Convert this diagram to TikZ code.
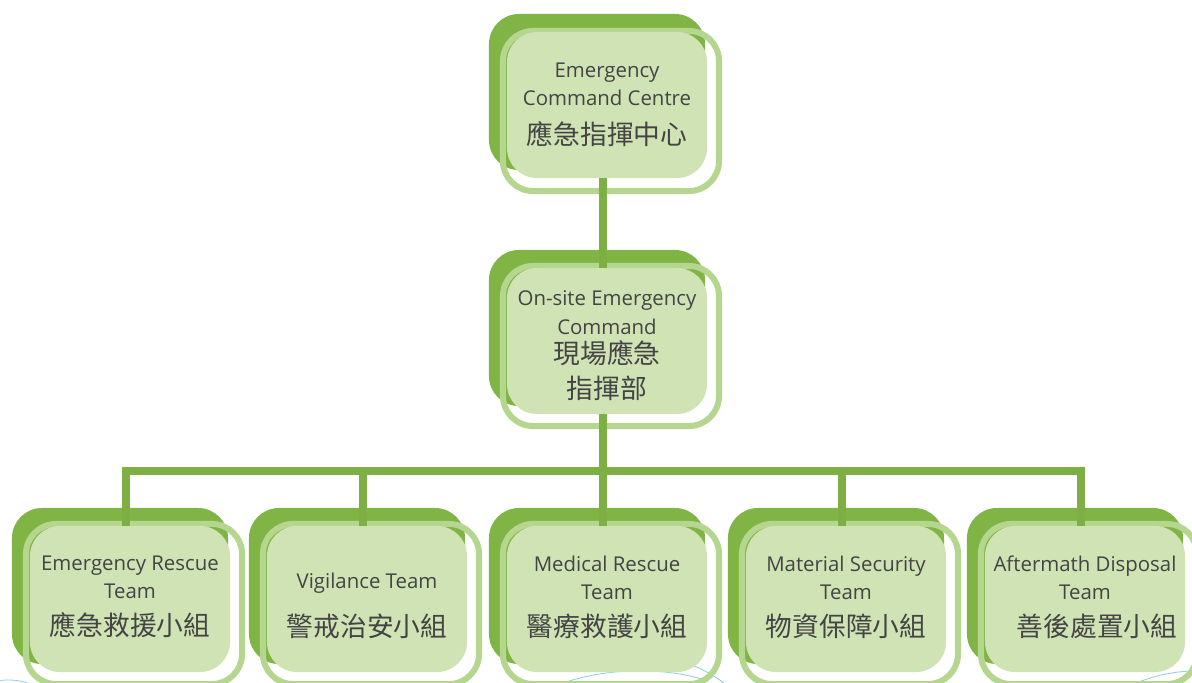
\documentclass[tikz,border=0pt]{standalone}
\usepackage{fontspec}
\setmainfont{Open Sans}
\newfontfamily\cjk{Noto Sans CJK TC}
\definecolor{bargreen}{HTML}{80B545}
\definecolor{ringgreen}{HTML}{B4D68F}
\definecolor{facegreen}{HTML}{D0E3B5}
\definecolor{linegreen}{HTML}{7EAF44}
\definecolor{textgray}{HTML}{444444}
\definecolor{swirlblue}{HTML}{8ED0E2}
\newcommand{\zh}[1]{{\cjk\fontsize{19}{26}\selectfont #1}}

\begin{document}
\begin{tikzpicture}[x=0.025cm, y=-0.025cm,
    backbox/.style={fill=bargreen, rounded corners=0.75cm, minimum width=5.4cm, minimum height=3.9cm, inner sep=0pt},
    ringbox/.style={draw=ringgreen, line width=0.15cm, rounded corners=0.75cm, minimum width=5.4cm, minimum height=4cm, inner sep=0pt},
    facebox/.style={fill=facegreen, rounded corners=0.75cm, minimum width=5cm, minimum height=3.65cm, inner sep=0pt,
        align=center, text=textgray, font=\fontsize{14.5}{20}\selectfont},
    link/.style={draw=linegreen, line width=0.2cm},
    swirl/.style={draw=swirlblue, line width=0.6pt}]

    \fill[white] (0,0) rectangle (1192,683);
    \useasboundingbox (0,0) rectangle (1192,683);
    \clip (0,0) rectangle (1192,683);

    % faint background swirls
    \draw[swirl] (555,686) .. controls (600,668) and (660,666) .. (705,680);
    \draw[swirl] (660,655) .. controls (690,662) and (710,672) .. (728,686);
    \draw[swirl] (1130,686) .. controls (1150,676) and (1175,671) .. (1195,671);
    \draw[swirl] (-5,681) .. controls (10,679) and (20,680) .. (30,684);

    % command centre
    \node[backbox] (eccback) at (597,92) {};
    \node[ringbox] (eccring) at (611,111) {};
    \node[facebox] (ecc) at (607,105) {Emergency\\Command Centre\\[8pt]\zh{應急指揮中心}};

    % on-site command
    \node[backbox] (oscback) at (597,328) {};
    \node[ringbox] (oscring) at (611,346) {};
    \node[facebox, text depth=0pt] (osc) at (607,341) {};
    \node[align=center, text=textgray, font=\fontsize{14.5}{20}\selectfont, inner sep=0pt] (osctext) at (607,346)
        {On-site Emergency\\Command\\[1pt]\zh{現場應急}\\[5pt]\zh{指揮部}};

    % teams
    \foreach \n/\fx/\ty/\txt in {
        1/130/597/{Emergency Rescue\\Team\\[6pt]\zh{應急救援小組}},
        2/367/606/{Vigilance Team\\[14pt]\zh{警戒治安小組}},
        3/607/597/{Medical Rescue\\Team\\[6pt]\zh{醫療救護小組}},
        4/846/597/{Material Security\\Team\\[6pt]\zh{物資保障小組}},
        5/1085/597/{Aftermath Disposal\\Team\\[6pt]\hspace*{0.6cm}\zh{善後處置小組}}} {
        \node[backbox] (back\n) at (\fx-10,586) {};
        \node[ringbox] (ring\n) at (\fx+4,604) {};
        \node[facebox] (team\n) at (\fx,599) {};
        \node[align=center, text=textgray, font=\fontsize{14.5}{20}\selectfont, inner sep=0pt] (label\n) at (\fx,\ty) {\txt};
    }

    \coordinate (bus) at (603,471);
    \draw[link] ([xshift=-0.1cm]ecc.south) -- ([xshift=-0.1cm]osc.north);
    \draw[link] ([xshift=-0.1cm]osc.south) -- ([xshift=-0.1cm]osc.south |- bus);
    \draw[link, line join=miter] ([xshift=-0.1cm]team1.north) |- ([xshift=-0.1cm]team5.north |- bus) -- ([xshift=-0.1cm]team5.north);
    \foreach \n in {2,3,4}
        \draw[link] ([xshift=-0.1cm]team\n.north) -- ([xshift=-0.1cm]team\n.north |- bus);

\end{tikzpicture}
\end{document}
